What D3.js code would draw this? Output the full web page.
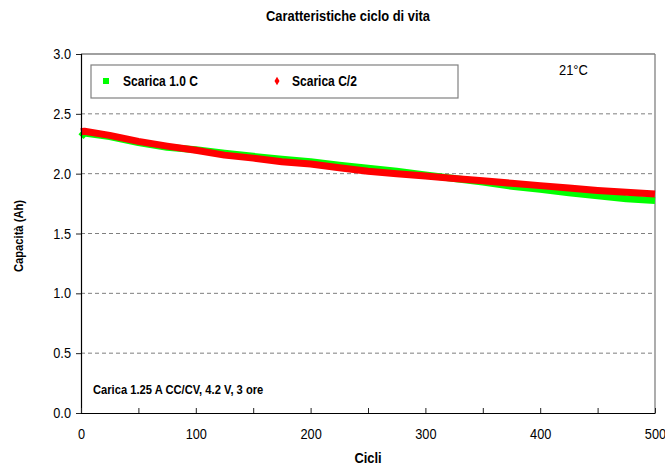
<!DOCTYPE html>
<html>
<head>
<meta charset="UTF-8">
<title>Caratteristiche ciclo di vita</title>
<script src="https://cdn.jsdelivr.net/npm/d3@7/dist/d3.min.js"></script>
<style>
body { margin:0; background:#fff; }
text { font-family:"Liberation Sans",Arial,sans-serif; fill:#000; }
.bold { font-weight:bold; }
</style>
</head>
<body>
<div id="chart"></div>
<script>
// values
var cicli   = [0, 3, 25, 50, 75, 100, 125, 150, 175, 200, 225, 250, 275, 300, 325, 350, 375, 400, 425, 450, 475, 500];
var scarica1C  = [2.31, 2.34, 2.31, 2.26, 2.22, 2.20, 2.17, 2.145, 2.12, 2.10, 2.07, 2.045, 2.02, 1.99, 1.96, 1.93, 1.895, 1.87, 1.84, 1.815, 1.79, 1.775];
var scaricaC2  = [2.35, 2.355, 2.32, 2.27, 2.23, 2.195, 2.155, 2.13, 2.10, 2.08, 2.05, 2.02, 2.00, 1.98, 1.96, 1.94, 1.92, 1.90, 1.88, 1.86, 1.845, 1.83];
var yTicks = [0, 0.5, 1.0, 1.5, 2.0, 2.5, 3.0];
var xTicks = [0, 50, 100, 150, 200, 250, 300, 350, 400, 450, 500];

var width=665, height=467;
var ml=81, mr=655, mt=54, mb=413;
var SX=0.86; // the original font is a narrow one

var svg=d3.select("#chart").append("svg").attr("width",width).attr("height",height);

var x=d3.scaleLinear().domain([0,500]).range([ml,mr]);
var y=d3.scaleLinear().domain([0,3]).range([mb,mt]);

// squeeze a text horizontally around its anchor
function narrow(sel,sx){
  sel.each(function(){
    var t=d3.select(this), tx=+t.attr("x")||0, tr=t.attr("transform")||"";
    t.attr("x",tx/sx).attr("transform",tr+" scale("+sx+",1)");
  });
}
function label(px,py,txt,size,bold,anchor){
  var t=svg.append("text").attr("x",px).attr("y",py).style("font-size",size+"px")
    .attr("text-anchor",anchor||"start").text(txt);
  if(bold) t.attr("class","bold");
  narrow(t,SX);
  return t;
}

// gridlines (dashed), top frame and right frame
svg.selectAll(".grid").data(yTicks.filter(function(d){return d>0 && d<3;})).enter().append("line")
  .attr("x1",ml).attr("x2",mr)
  .attr("y1",function(d){return y(d);}).attr("y2",function(d){return y(d);})
  .attr("stroke","#7f7f7f").attr("stroke-width",1).attr("stroke-dasharray","4,3");
svg.append("line").attr("x1",ml).attr("x2",mr).attr("y1",y(3)).attr("y2",y(3))
  .attr("stroke","#808080").attr("stroke-width",1.3);
svg.append("line").attr("x1",mr).attr("x2",mr).attr("y1",y(3)).attr("y2",y(0))
  .attr("stroke","#808080").attr("stroke-width",1.3);

// series: thick bands of overlapping markers
var line=d3.line().x(function(d){return x(d[0]);}).y(function(d){return y(d[1]);});
function band(vals,col){
  svg.append("path").datum(cicli.map(function(c,i){return [c,vals[i]];}))
    .attr("d",line).attr("fill","none").attr("stroke",col)
    .attr("stroke-width",7).attr("stroke-linejoin","round");
}
band(scarica1C,"#00ff00");
band(scaricaC2,"#ff0000");

// axes
var yAxis=d3.axisLeft(y).tickValues(yTicks).tickFormat(d3.format(".1f")).tickSize(5).tickPadding(5);
var gy=svg.append("g").attr("transform","translate("+ml+",0)").call(yAxis);
var xAxis=d3.axisBottom(x).tickValues(xTicks)
  .tickFormat(function(d){return d%100===0 ? d : "";}).tickSizeInner(-5).tickSizeOuter(0).tickPadding(16);
var gx=svg.append("g").attr("transform","translate(0,"+mb+")").call(xAxis);
svg.selectAll(".domain").attr("stroke","#000").attr("stroke-width",1.2);
svg.selectAll(".tick line").attr("stroke","#222");
svg.selectAll(".tick text").attr("font-family",null).style("font-size","14.5px").attr("fill","#000");
narrow(gy.selectAll(".tick text"),0.88);
narrow(gx.selectAll(".tick text"),0.88);

// titles
label(348,21,"Caratteristiche ciclo di vita",15,true,"middle");
label(368,463,"Cicli",15,true,"middle");
var yl=svg.append("text").attr("class","bold").attr("transform","translate(23,236) rotate(-90)")
  .attr("text-anchor","middle").style("font-size","13px").text("Capacità (Ah)");
narrow(yl,SX);

// legend
svg.append("rect").attr("x",91).attr("y",65).attr("width",367).attr("height",33)
  .attr("fill","#fff").attr("stroke","#808080").attr("stroke-width",1.2);
svg.append("rect").attr("x",103).attr("y",78).attr("width",6).attr("height",6).attr("fill","#00ff00");
label(123,86,"Scarica 1.0 C",14,true);
svg.append("path").attr("d",d3.symbol(d3.symbolDiamond,22)()).attr("transform","translate(277,81)").attr("fill","#ff0000");
label(292,86,"Scarica C/2",14,true);

label(559,75,"21°C",15,false);
label(93,394,"Carica 1.25 A CC/CV, 4.2 V, 3 ore",13,true);
</script>
</body>
</html>
